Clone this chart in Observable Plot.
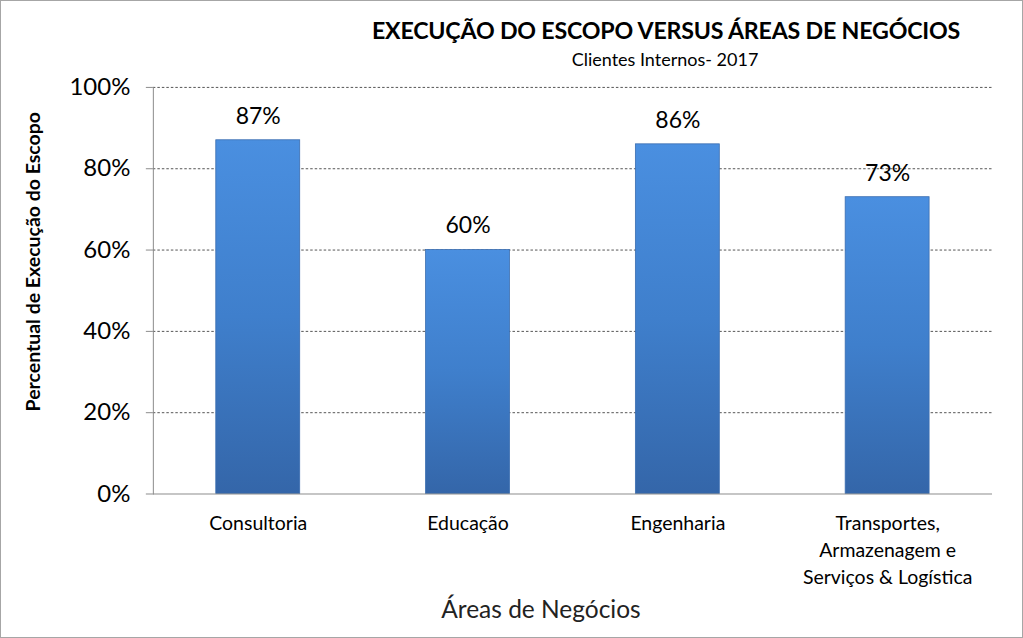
<!DOCTYPE html>
<html>
<head>
<meta charset="utf-8">
<script src="https://cdn.jsdelivr.net/npm/d3@7"></script>
<script src="https://cdn.jsdelivr.net/npm/@observablehq/plot@0.6"></script>
<style>
  html, body { margin: 0; padding: 0; background: #fff; }
  #wrap { position: relative; width: 1021px; height: 636px; border: 1px solid #a6a6a6; overflow: hidden; font-family: Lato, "Open Sans", sans-serif; }
  #title { position: absolute; left: 0; width: 1330px; top: 15px; text-align: center; font-weight: bold; font-size: 23.2px; color: #000; letter-spacing: -0.2px; }
  #subtitle { position: absolute; left: 0; width: 1328px; top: 47px; text-align: center; font-size: 18px; color: #000; }
  #chart { position: absolute; left: -1px; top: -1px; }
</style>
</head>
<body>
<div id="wrap">
  <div id="chart"></div>
  <div id="title">EXECUÇÃO DO ESCOPO VERSUS ÁREAS DE NEGÓCIOS</div>
  <div id="subtitle">Clientes Internos- 2017</div>
</div>
<script>
const categories = ["Consultoria", "Educação", "Engenharia", "Transportes,\nArmazenagem e\nServiços & Logística"];
const values = [87, 60, 86, 73];
const yTicks = [0, 20, 40, 60, 80, 100];
const yLabel = "Percentual de Execução do Escopo";
const xLabel = "Áreas de Negócios";

const data = categories.map((c, i) => ({category: c, value: values[i]}));

const plot = Plot.plot({
  width: 1023,
  height: 638,
  marginLeft: 153,
  marginRight: 30,
  marginTop: 87,
  marginBottom: 144,
  style: {fontFamily: "Lato, 'Open Sans', sans-serif", background: "transparent"},
  x: {domain: categories, paddingInner: 0.6, paddingOuter: 0.3, label: null},
  y: {domain: [0, 100], label: null},
  marks: [
    Plot.gridY(yTicks.filter(d => d > 0), {stroke: "#555", strokeOpacity: 1, strokeDasharray: "2.5,2", strokeWidth: 1}),
    Plot.barY(data, {x: "category", y: "value", fill: "url(#barGrad)", stroke: "#3a6db0", strokeWidth: 0.8}),
    Plot.text(data, {x: "category", y: "value", text: d => d.value + "%", dy: -24, fontSize: 23, fill: "#000"}),
    Plot.ruleY([0], {stroke: "#8c8c8c", strokeWidth: 1}),
    Plot.axisY({ticks: yTicks, tickFormat: d => d + "%", tickSize: 7, tickPadding: 16, fontSize: 24, stroke: "#8c8c8c", fill: "#000", label: null}),
    Plot.frame({anchor: "left", stroke: "#8c8c8c"}),
    Plot.axisX({tickSize: 0, tickPadding: 17, fontSize: 19.5, fill: "#000", lineHeight: 1.38, label: null, lineAnchor: "top"}),
    Plot.text([yLabel], {frameAnchor: "left", textAnchor: "middle", dx: -120, dy: -29, rotate: -90, fontSize: 19.5, fontWeight: "bold", fill: "#000"}),
    Plot.text([xLabel], {frameAnchor: "bottom", dx: -32, dy: 124, fontSize: 24.5, fill: "#222"})
  ]
});

const svgNS = "http://www.w3.org/2000/svg";
const defs = document.createElementNS(svgNS, "defs");
defs.innerHTML = `
  <linearGradient id="barGrad" x1="0" y1="0" x2="0" y2="1">
    <stop offset="0" stop-color="#4a8fe0"/>
    <stop offset="0.5" stop-color="#3f7fcc"/>
    <stop offset="1" stop-color="#3466a9"/>
  </linearGradient>`;
plot.insertBefore(defs, plot.firstChild);
document.getElementById("chart").appendChild(plot);
</script>
</body>
</html>
